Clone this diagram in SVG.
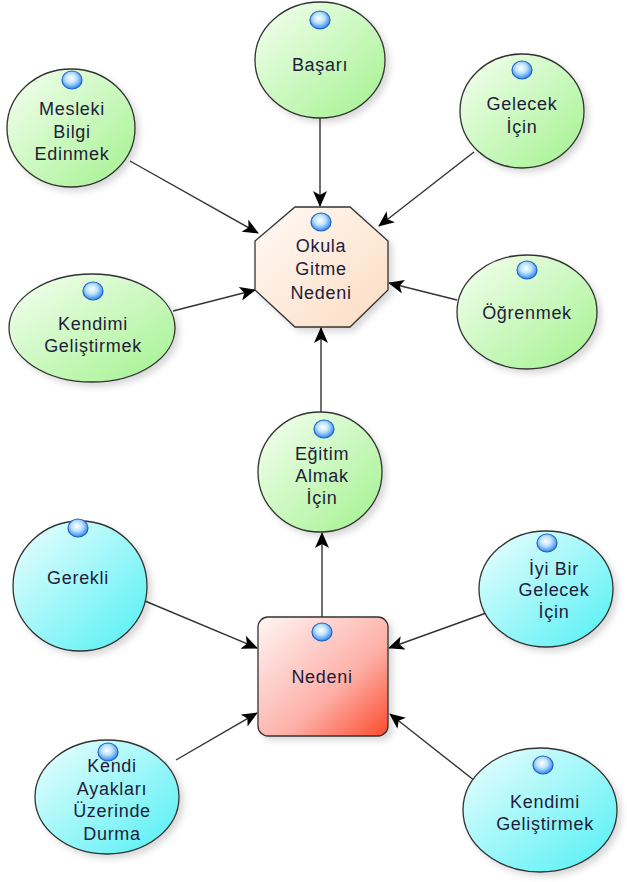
<svg xmlns="http://www.w3.org/2000/svg" width="627" height="882" viewBox="0 0 627 882">
<defs>
<linearGradient id="gGreen" x1="0" y1="0" x2="1" y2="1">
<stop offset="0" stop-color="#f6fff2"/><stop offset="1" stop-color="#a2f28e"/>
</linearGradient>
<linearGradient id="gCyan" x1="0" y1="0" x2="1" y2="1">
<stop offset="0" stop-color="#effefe"/><stop offset="1" stop-color="#4ff0f4"/>
</linearGradient>
<linearGradient id="gPeach" x1="0" y1="0" x2="1" y2="1">
<stop offset="0" stop-color="#fffaf5"/><stop offset="1" stop-color="#fcdcc2"/>
</linearGradient>
<linearGradient id="gRed" x1="0" y1="0" x2="1" y2="1">
<stop offset="0" stop-color="#fff6f4"/><stop offset="0.6" stop-color="#fdb0a8"/><stop offset="1" stop-color="#fd4a2c"/>
</linearGradient>
<radialGradient id="gIcon" cx="0.45" cy="0.4" r="0.6">
<stop offset="0" stop-color="#ffffff"/><stop offset="0.45" stop-color="#bfe4ff"/><stop offset="1" stop-color="#2f86ea"/>
</radialGradient>
<filter id="sh" x="-20%" y="-20%" width="150%" height="150%">
<feDropShadow dx="4" dy="4" stdDeviation="3" flood-color="#000" flood-opacity="0.15"/>
</filter>
<marker id="arr" viewBox="0 0 16 14" refX="15" refY="7" markerWidth="16" markerHeight="14" markerUnits="userSpaceOnUse" orient="auto">
<path d="M0,0 L16,7 L0,14 L4,7 Z" fill="#000"/>
</marker>
</defs>
<style>
.node{stroke:#333;stroke-width:1.3;filter:url(#sh)}
.g{fill:url(#gGreen)}
.c{fill:url(#gCyan)}
.icon{fill:url(#gIcon);stroke:#1f63c8;stroke-width:1.2}
.t{font-family:"Liberation Sans",Arial,sans-serif;font-size:18px;letter-spacing:0.7px;fill:#221c3a;text-anchor:middle}
.conn line{stroke:#333;stroke-width:1.4;marker-end:url(#arr)}
</style>

<g id="connectors" class="conn">
<line x1="320" y1="118" x2="320" y2="206"/>
<line x1="474" y1="152" x2="379" y2="226"/>
<line x1="130" y1="161" x2="258" y2="233"/>
<line x1="173" y1="311" x2="255" y2="290"/>
<line x1="457" y1="300" x2="389" y2="283"/>
<line x1="321" y1="413" x2="321" y2="328"/>
<line x1="322" y1="617" x2="322" y2="533"/>
<line x1="145" y1="601" x2="257" y2="648"/>
<line x1="489" y1="612" x2="389" y2="648"/>
<line x1="176" y1="760" x2="257" y2="713"/>
<line x1="475" y1="781" x2="390" y2="714"/>
</g>

<g id="basari">
<ellipse class="node g" cx="320" cy="60" rx="65" ry="58"/>
<ellipse class="icon" cx="320" cy="20" rx="10" ry="9"/>
<text class="t" x="320" y="71">Başarı</text>
</g>

<g id="gelecek-icin">
<ellipse class="node g" cx="522" cy="111" rx="62" ry="57"/>
<ellipse class="icon" cx="522" cy="70" rx="10" ry="9"/>
<text class="t" x="522" y="110">Gelecek</text>
<text class="t" x="522" y="133">İçin</text>
</g>

<g id="mesleki">
<ellipse class="node g" cx="71" cy="128" rx="64" ry="59"/>
<ellipse class="icon" cx="72" cy="80" rx="10" ry="9"/>
<text class="t" x="72" y="115">Mesleki</text>
<text class="t" x="72" y="138">Bilgi</text>
<text class="t" x="72" y="160">Edinmek</text>
</g>

<g id="okula">
<polygon class="node" fill="url(#gPeach)" points="295,207 350,207 388,241 388,290 350,327 295,327 255,290 255,241"/>
<ellipse class="icon" cx="321" cy="222" rx="10" ry="9"/>
<text class="t" x="321" y="252">Okula</text>
<text class="t" x="321" y="275">Gitme</text>
<text class="t" x="321" y="299">Nedeni</text>
</g>

<g id="kendimi-1">
<ellipse class="node g" cx="92" cy="328" rx="83" ry="54"/>
<ellipse class="icon" cx="93" cy="291" rx="10" ry="9"/>
<text class="t" x="93" y="330">Kendimi</text>
<text class="t" x="93" y="352">Geliştirmek</text>
</g>

<g id="ogrenmek">
<ellipse class="node g" cx="527" cy="312" rx="70" ry="57"/>
<ellipse class="icon" cx="527" cy="270" rx="10" ry="9"/>
<text class="t" x="527" y="319">Öğrenmek</text>
</g>

<g id="egitim">
<ellipse class="node g" cx="320" cy="472" rx="62" ry="60"/>
<ellipse class="icon" cx="324" cy="429" rx="10" ry="9"/>
<text class="t" x="322" y="460">Eğitim</text>
<text class="t" x="322" y="482">Almak</text>
<text class="t" x="322" y="504">İçin</text>
</g>

<g id="gerekli">
<ellipse class="node c" cx="80" cy="586" rx="67" ry="65"/>
<ellipse class="icon" cx="78" cy="528" rx="10" ry="9"/>
<text class="t" x="78" y="584">Gerekli</text>
</g>

<g id="nedeni">
<rect class="node" fill="url(#gRed)" x="258" y="617" width="130" height="119" rx="10"/>
<ellipse class="icon" cx="322" cy="632" rx="10" ry="9"/>
<text class="t" x="322" y="683">Nedeni</text>
</g>

<g id="iyi-bir-gelecek">
<ellipse class="node c" cx="546" cy="589" rx="67" ry="58"/>
<ellipse class="icon" cx="547" cy="543" rx="10" ry="9"/>
<text class="t" x="554" y="575">İyi Bir</text>
<text class="t" x="554" y="596">Gelecek</text>
<text class="t" x="554" y="618">İçin</text>
</g>

<g id="kendi-ayaklari">
<ellipse class="node c" cx="107" cy="797" rx="72" ry="57"/>
<ellipse class="icon" cx="108" cy="752" rx="10" ry="9"/>
<text class="t" x="112" y="772">Kendi</text>
<text class="t" x="112" y="795">Ayakları</text>
<text class="t" x="112" y="817">Üzerinde</text>
<text class="t" x="112" y="840">Durma</text>
</g>

<g id="kendimi-2">
<ellipse class="node c" cx="540" cy="810" rx="77" ry="62"/>
<ellipse class="icon" cx="543" cy="765" rx="10" ry="9"/>
<text class="t" x="545" y="808">Kendimi</text>
<text class="t" x="545" y="830">Geliştirmek</text>
</g>
</svg>
